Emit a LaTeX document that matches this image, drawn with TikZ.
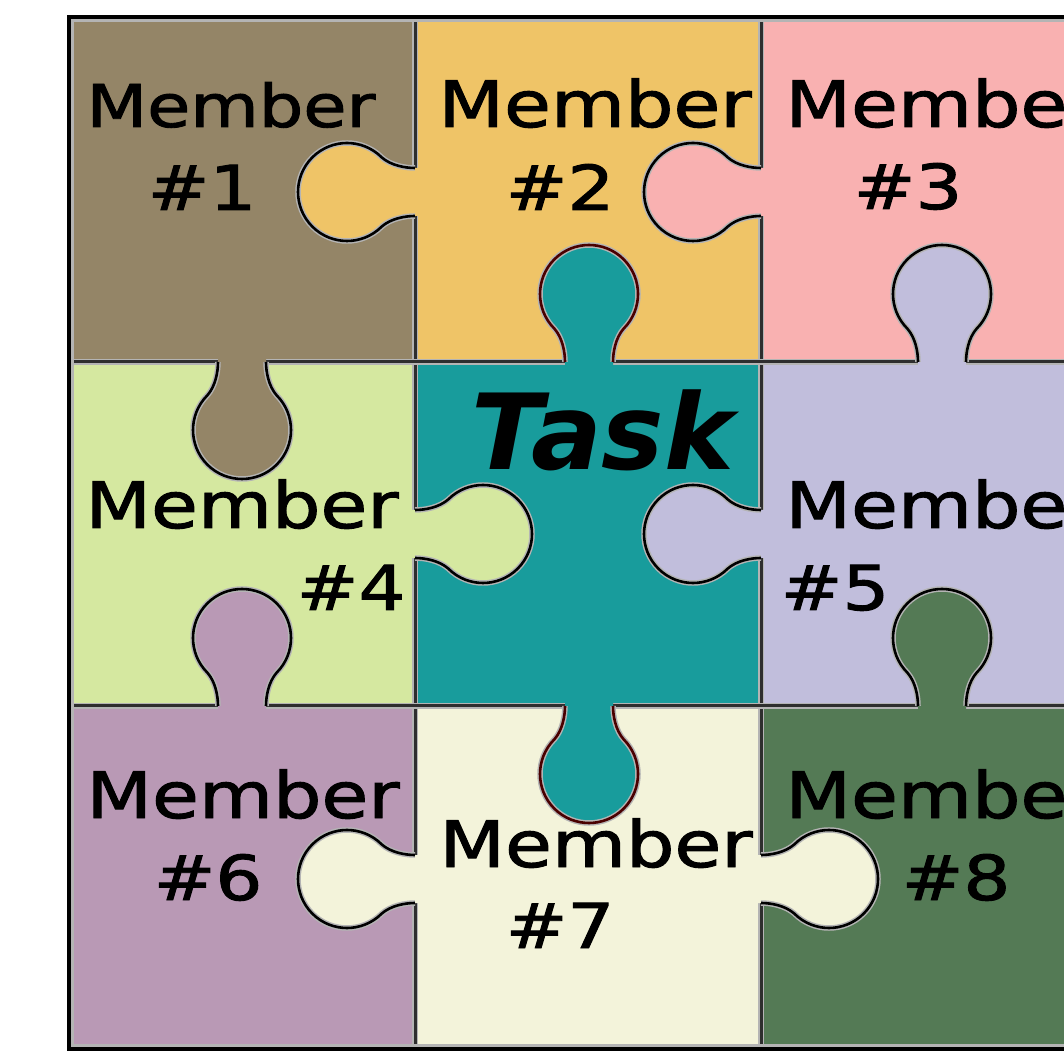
\documentclass[tikz,border=0pt]{standalone}
\usepackage{fontspec}
\setmainfont{DejaVu Sans}
\newfontfamily\memfont{DejaVu Sans}[FakeBold=1.5]
\usepackage{graphicx}
\definecolor{cA}{HTML}{948567}
\definecolor{cB}{HTML}{EFC467}
\definecolor{cC}{HTML}{F9B1B1}
\definecolor{cT}{HTML}{189C9C}
\definecolor{cD}{HTML}{D5E8A0}
\definecolor{cE}{HTML}{C1BEDC}
\definecolor{cF}{HTML}{B999B5}
\definecolor{cG}{HTML}{F3F3DA}
\definecolor{cH}{HTML}{547A55}
\definecolor{gridgray}{HTML}{2E2E2E}
\definecolor{halogray}{HTML}{B4B4B4}
\definecolor{taskline}{HTML}{4A0000}
\tikzset{
  gridline/.style={draw=gridgray, line width=3, preaction={draw=halogray, line width=6}},
  tabedge/.style={line width=2.6, preaction={draw=halogray, line width=5.5}},
  memtxt/.style={anchor=base, inner sep=0, font=\memfont\fontsize{64}{64}\selectfont},
  memsmall/.style={anchor=base, inner sep=0, font=\memfont\fontsize{59}{59}\selectfont},
  numtxt/.style={anchor=base, inner sep=0, font=\memfont\fontsize{62}{62}\selectfont},
  tasktxt/.style={anchor=base, inner sep=0, font=\fontsize{105}{105}\selectfont\bfseries\itshape}
}
% #1 x, #2 y, #3 rotation, #4 fill colour, #5 outline colour
\newcommand{\jtab}[5]{%
  \begin{scope}[shift={(#1,#2)}, rotate=#3]
    \fill[#4] (-24,-4) -- (-24,0) .. controls (-24,10) and (-26.6,24.3) .. (-34.65,33.35)
      arc[start angle=225, end angle=-45, radius=49]
      .. controls (26.6,24.3) and (24,10) .. (24,0) -- (24,-4) -- cycle;
    \draw[tabedge, draw=#5] (-24,0) .. controls (-24,10) and (-26.6,24.3) .. (-34.65,33.35)
      arc[start angle=225, end angle=-45, radius=49]
      .. controls (26.6,24.3) and (24,10) .. (24,0);
  \end{scope}}
\newcommand{\wide}[1]{\scalebox{1.19}[1]{#1}}
\begin{document}
\begin{tikzpicture}[x=1pt, y=1pt]
  \useasboundingbox (0,0) rectangle (1064,1052);
  \clip (0,0) rectangle (1064,1052);
  \fill[white] (0,0) rectangle (1064,1052);
  % cells
  \fill[cA] (69,690) rectangle (415,1035);
  \fill[cB] (415,690) rectangle (761,1035);
  \fill[cC] (761,690) rectangle (1107,1035);
  \fill[cD] (69,346) rectangle (415,690);
  \fill[cT] (415,346) rectangle (761,690);
  \fill[cE] (761,346) rectangle (1107,690);
  \fill[cF] (69,3) rectangle (415,346);
  \fill[cG] (415,3) rectangle (761,346);
  \fill[cH] (761,3) rectangle (1107,346);
  % grid lines
  \draw[gridline] (415,3) -- (415,1035);
  \draw[gridline] (761,3) -- (761,1035);
  \draw[gridline] (69,690) -- (1107,690);
  \draw[gridline] (69,346) -- (1107,346);
  \draw[halogray, line width=2.5] (72.5,6.5) rectangle (1103.5,1031.5);
  \draw[black, line width=4] (69,3) rectangle (1107,1035);
  % tabs
  \jtab{415}{860}{90}{cB}{black}
  \jtab{761}{860}{90}{cC}{black}
  \jtab{589}{690}{0}{cT}{taskline}
  \jtab{942}{690}{0}{cE}{black}
  \jtab{242}{690}{180}{cA}{black}
  \jtab{415}{518}{-90}{cD}{black}
  \jtab{761}{518}{90}{cE}{black}
  \jtab{242}{346}{0}{cF}{black}
  \jtab{942}{346}{0}{cH}{black}
  \jtab{589}{346}{180}{cT}{taskline}
  \jtab{415}{173}{90}{cG}{black}
  \jtab{761}{173}{-90}{cG}{black}
  % texts
  \node[memsmall] (m1) at (231,925) {\wide{Member}};
  \node[numtxt] (n1) at (202,842) {\wide{\#1}};
  \node[memtxt] (m2) at (595,925) {\wide{Member}};
  \node[numtxt] (n2) at (560,842) {\wide{\#2}};
  \node[memtxt] (m3) at (942,925) {\wide{Member}};
  \node[numtxt] (n3) at (908,843) {\wide{\#3}};
  \node[tasktxt] (task) at (603,582) {Task};
  \node[memtxt] (m4) at (242,524) {\wide{Member}};
  \node[numtxt] (n4) at (351,442) {\wide{\#4}};
  \node[memtxt] (m5) at (942,524) {\wide{Member}};
  \node[numtxt] (n5) at (835,442) {\wide{\#5}};
  \node[memtxt] (m6) at (243,234) {\wide{Member}};
  \node[numtxt] (n6) at (208,152) {\wide{\#6}};
  \node[memtxt] (m7) at (596,185) {\wide{Member}};
  \node[numtxt] (n7) at (560,104) {\wide{\#7}};
  \node[memtxt] (m8) at (942,234) {\wide{Member}};
  \node[numtxt] (n8) at (956,152) {\wide{\#8}};
\end{tikzpicture}
\end{document}
